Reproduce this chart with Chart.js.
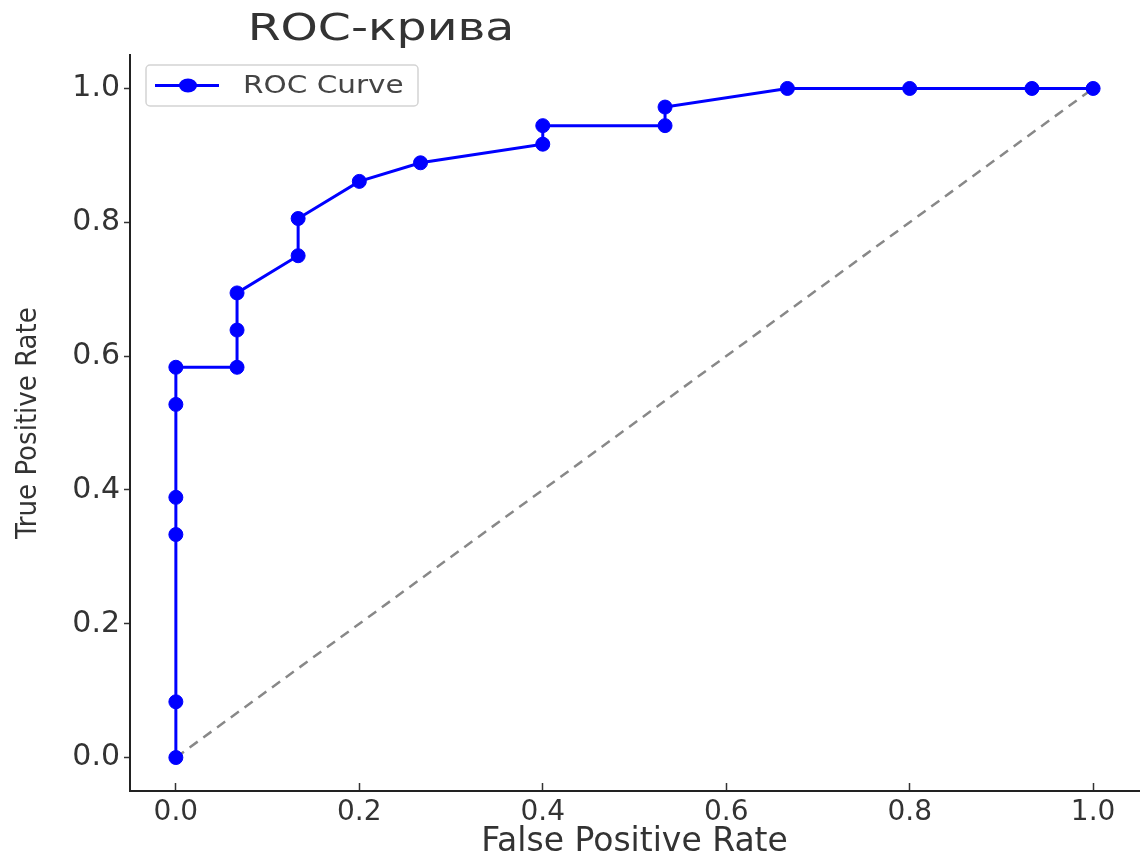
<!DOCTYPE html>
<html>
<head>
<meta charset="utf-8">
<script src="https://cdn.jsdelivr.net/npm/chart.js@4.4.1/dist/chart.umd.min.js"></script>
<style>
  html, body { margin: 0; padding: 0; background: #fff; }
</style>
</head>
<body>
<canvas id="roc" width="1147" height="857"></canvas>
<script>
// ROC points
const fpr = [0, 0, 0, 0, 0, 0, 0.0667, 0.0667, 0.0667, 0.1333, 0.1333, 0.2, 0.2667, 0.4, 0.4, 0.5333, 0.5333, 0.6667, 0.8, 0.9333, 1.0];
const tpr = [0, 0.0833, 0.3333, 0.3889, 0.5278, 0.5833, 0.5833, 0.6389, 0.6944, 0.75, 0.8056, 0.8611, 0.8889, 0.9167, 0.9444, 0.9444, 0.9722, 1, 1, 1, 1];
const diagX = [0, 1];
const diagY = [0, 1];
const xTicks = [0, 0.2, 0.4, 0.6, 0.8, 1.0];
const yTicks = [0, 0.2, 0.4, 0.6, 0.8, 1.0];
const chartTitle = "ROC-крива";
const seriesLabel = "ROC Curve";
const xTitle = "False Positive Rate";
const yTitle = "True Positive Rate";

const blue = "#0000ff";
const txt = "#333333";

// title + legend box inside the plot (matplotlib style)
const overlay = {
  id: "overlay",
  afterDraw(chart) {
    const ctx = chart.ctx, a = chart.chartArea;
    ctx.save();
    ctx.fillStyle = txt;
    ctx.font = '37px "DejaVu Sans"';
    ctx.textAlign = "center";
    ctx.textBaseline = "middle";
    // the picture is a bit stretched sideways
    ctx.translate(381, 30);
    ctx.scale(1.28, 1);
    ctx.fillText(chartTitle, 0, 0);
    ctx.restore();

    ctx.save();
    const lx = a.left + 16, ly = a.top + 10, w = 272, h = 41;
    ctx.beginPath();
    ctx.roundRect(lx, ly, w, h, 4);
    ctx.fillStyle = "rgba(255,255,255,0.8)";
    ctx.fill();
    ctx.strokeStyle = "#d4d4d4";
    ctx.lineWidth = 1.5;
    ctx.stroke();

    const ds = chart.data.datasets[0];
    const cy = ly + h / 2;
    ctx.beginPath();
    ctx.moveTo(lx + 9, cy);
    ctx.lineTo(lx + 73, cy);
    ctx.strokeStyle = ds.borderColor;
    ctx.lineWidth = ds.borderWidth;
    ctx.stroke();
    ctx.beginPath();
    ctx.ellipse(lx + 42, cy, 9, 7, 0, 0, Math.PI * 2);
    ctx.fillStyle = ds.backgroundColor;
    ctx.fill();

    ctx.fillStyle = "#444";
    ctx.font = '25px "DejaVu Sans"';
    ctx.textAlign = "left";
    ctx.textBaseline = "middle";
    ctx.translate(lx + 97, cy + 1);
    ctx.scale(1.18, 1);
    ctx.fillText(ds.label, 0, 0);
    ctx.restore();
  }
};

new Chart(document.getElementById("roc"), {
  type: "scatter",
  data: {
    datasets: [
      {
        label: seriesLabel,
        data: fpr.map((x, i) => ({ x: x, y: tpr[i] })),
        showLine: true,
        borderColor: blue,
        backgroundColor: blue,
        borderWidth: 3,
        pointRadius: 7,
        pointHoverRadius: 7,
        pointBorderWidth: 1,
        pointBorderColor: blue
      },
      {
        label: "chance",
        data: diagX.map((x, i) => ({ x: x, y: diagY[i] })),
        showLine: true,
        borderColor: "#888888",
        borderWidth: 2.5,
        borderDash: [10, 7],
        pointRadius: 0
      }
    ]
  },
  options: {
    responsive: false,
    animation: false,
    layout: { padding: { top: 55, right: 3 } },
    plugins: {
      legend: { display: false },
      title: { display: false },
      tooltip: { enabled: false }
    },
    scales: {
      x: {
        type: "linear",
        min: -0.05,
        max: 1.05,
        afterBuildTicks: s => { s.ticks = xTicks.map(v => ({ value: v })); },
        afterFit: s => { s.height = 66; },
        grid: { drawOnChartArea: false, drawTicks: true, tickLength: -8, tickWidth: 1.5, tickColor: txt },
        border: { color: "#222", width: 2 },
        ticks: {
          padding: 13,
          color: txt,
          font: { family: '"DejaVu Sans"', size: 28 },
          callback: v => v.toFixed(1)
        },
        title: {
          display: true,
          text: xTitle,
          color: txt,
          padding: { top: 0, bottom: -5 },
          font: { family: '"DejaVu Sans"', size: 33 }
        }
      },
      y: {
        type: "linear",
        min: -0.05,
        max: 1.05,
        afterBuildTicks: s => { s.ticks = yTicks.map(v => ({ value: v })); },
        afterFit: s => { s.width = 130; },
        grid: { drawOnChartArea: false, drawTicks: true, tickLength: 6, tickWidth: 1.5, tickColor: txt },
        border: { color: "#222", width: 2 },
        ticks: {
          padding: 4,
          color: txt,
          font: { family: '"DejaVu Sans"', size: 30 },
          callback: v => v.toFixed(1)
        },
        title: {
          display: true,
          text: yTitle,
          color: txt,
          padding: { top: 11, bottom: 0 },
          font: { family: '"DejaVu Sans Condensed", "DejaVu Sans"', size: 29 }
        }
      }
    }
  },
  plugins: [overlay]
});
</script>
</body>
</html>
